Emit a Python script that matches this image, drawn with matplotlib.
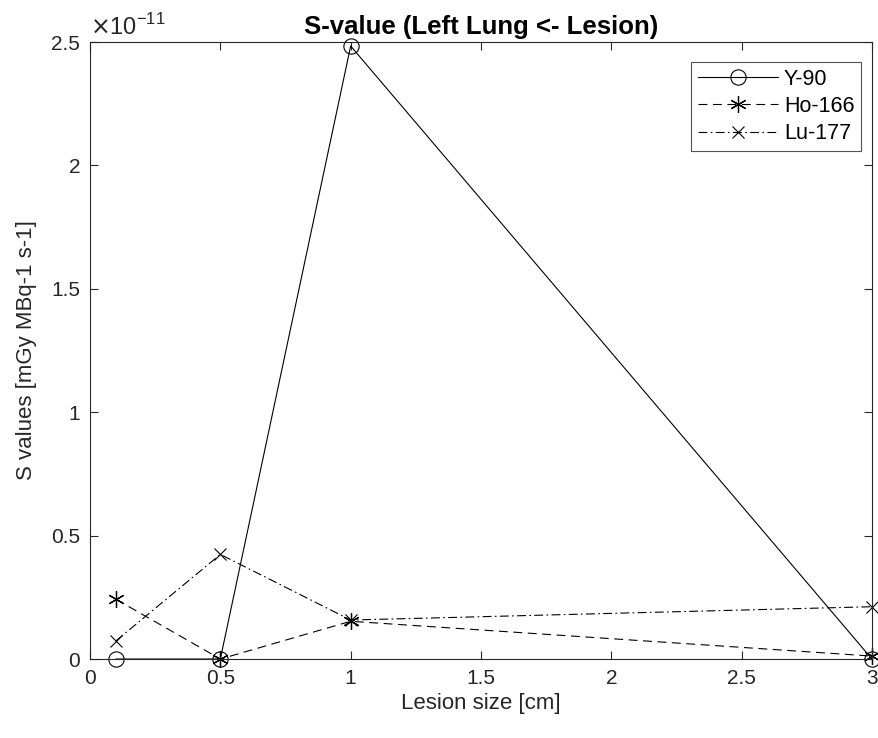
import numpy as np
import matplotlib.pyplot as plt
from matplotlib.ticker import FuncFormatter

plt.rcParams['font.family'] = ['Liberation Sans', 'DejaVu Sans']

# Lesion sizes [cm]
lesion_size = [0.1, 0.5, 1.0, 3.0]

# S values [mGy MBq-1 s-1]
s_y90 = [0.0, 0.0, 2.484e-11, 0.0]
s_ho166 = [0.242e-11, 0.0, 0.153e-11, 0.012e-11]
s_lu177 = [0.074e-11, 0.424e-11, 0.158e-11, 0.212e-11]

x_ticks = [0, 0.5, 1, 1.5, 2, 2.5, 3]
y_ticks = [0, 0.5e-11, 1e-11, 1.5e-11, 2e-11, 2.5e-11]

dark = '#262626'

fig = plt.figure(figsize=(8.79, 7.38), dpi=100)
ax = fig.add_axes([0.1024, 0.107, 0.8896, 0.836])

ax.plot(lesion_size, s_y90, color='black', lw=0.8, marker='o', ms=11,
        mfc='none', mec='black', mew=0.8, label='Y-90', clip_on=False)
ax.plot(lesion_size, s_ho166, color='black', lw=0.8, ls=(0, (8, 5)),
        marker=(6, 2, 0), ms=12, mew=0.9, label='Ho-166', clip_on=False)
ax.plot(lesion_size, s_lu177, color='black', lw=0.8, ls=(0, (8, 3, 1.5, 3)),
        marker='x', ms=8, mew=0.8, label='Lu-177', clip_on=False)

ax.set_xlim(0, 3)
ax.set_ylim(0, 2.5e-11)
ax.set_xticks(x_ticks)
ax.set_yticks(y_ticks)
ax.xaxis.set_major_formatter(FuncFormatter(lambda v, p: f'{v:g}'))
ax.yaxis.set_major_formatter(FuncFormatter(lambda v, p: f'{v / 1e-11:g}'))

ax.tick_params(direction='in', top=True, right=True, length=6, width=0.8,
               colors=dark, labelsize=15, pad=7)
for s in ax.spines.values():
    s.set_color(dark)
    s.set_linewidth(0.8)

ax.text(0.0, 1.004, r'$\times$10$^{\mathregular{-11}}$', transform=ax.transAxes,
        fontsize=17, color=dark, ha='left', va='bottom')

ax.set_title('S-value (Left Lung <- Lesion)', fontsize=18.5, fontweight='bold',
             pad=6)
ax.set_xlabel('Lesion size [cm]', fontsize=16, color=dark, labelpad=4)
ax.set_ylabel('S values [mGy MBq-1 s-1]', fontsize=16, color=dark, labelpad=10)

leg = ax.legend(loc='upper right', bbox_to_anchor=(0.986, 0.9676),
                fontsize=15.5, frameon=True, fancybox=False, edgecolor=dark,
                handlelength=3.7, borderaxespad=0.0, labelspacing=0.3,
                borderpad=0.3, handletextpad=0.3)
leg.get_frame().set_linewidth(0.8)

fig.savefig('out.png', dpi=100)
